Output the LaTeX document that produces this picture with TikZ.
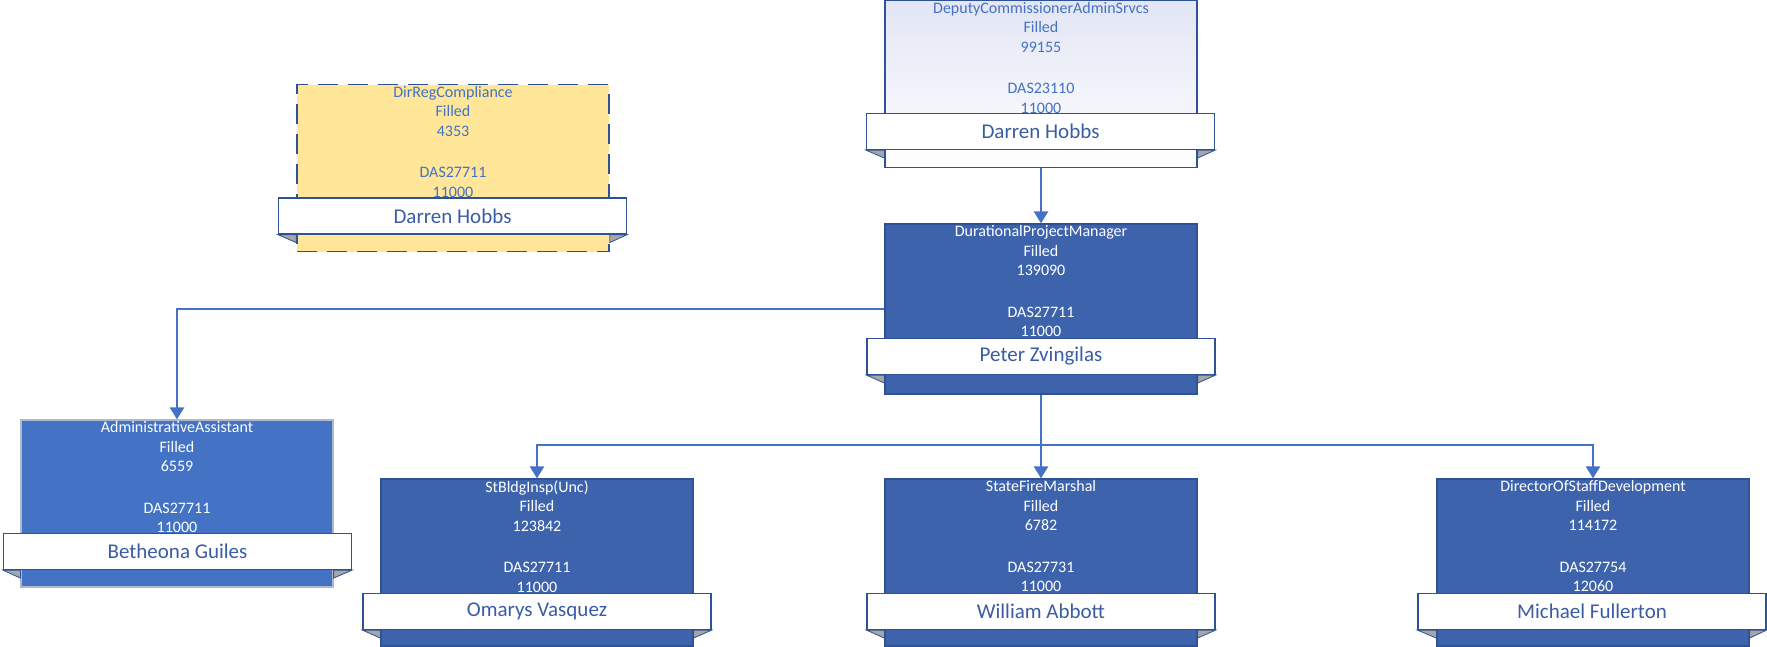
\documentclass[tikz,border=0pt]{standalone}
\usepackage{fontspec}
\setmainfont{Carlito}
\usepackage{tikz}
\usetikzlibrary{positioning,arrows.meta,calc}

\definecolor{orgdark}{RGB}{62,99,173}
\definecolor{orgmid}{RGB}{68,114,196}
\definecolor{orgedge}{RGB}{47,82,150}
\definecolor{orgtext}{RGB}{68,114,196}
\definecolor{orgname}{RGB}{58,92,165}
\definecolor{orgyellow}{RGB}{255,230,153}
\definecolor{orglav}{RGB}{226,229,244}
\definecolor{orgfold}{RGB}{166,166,166}
\definecolor{orggray}{RGB}{175,185,205}

% little grey flaps under a name banner
\newcommand{\flaps}[2]{%
  \draw[fold] (#2.south west) -- (#2.south west -| #1.west) -- ($(#2.south west -| #1.west)+(0,8)$) -- cycle;
  \draw[fold] (#2.south east) -- (#2.south east -| #1.east) -- ($(#2.south east -| #1.east)+(0,8)$) -- cycle;}

\begin{document}
\begin{tikzpicture}[x=1pt,y=-1pt,
    posbox/.style={draw=orgedge, line width=1.2pt, minimum width=312pt, minimum height=167pt, inner sep=0pt},
    banner/.style={draw=orgedge, line width=1.2pt, fill=white, minimum width=348pt, minimum height=36pt,
      inner sep=0pt, text=orgname, font=\fontsize{21}{25}\selectfont},
    info/.style={align=center, font=\fontsize{16}{19.5}\selectfont, inner sep=0pt, anchor=north},
    link/.style={draw=orgmid, line width=2.5pt, -{Triangle[width=14pt,length=12pt]}},
    fold/.style={draw=orgedge, line width=0.8pt, fill=orgfold}]
		\useasboundingbox (0,0) rectangle (1767,646);

		% boxes
		\node[posbox, top color=orglav, bottom color=white] (dep) at (1041,84) {};
		\node[posbox, fill=orgyellow, dash pattern=on 20pt off 10pt, line width=1.6pt] (dirreg) at (453,168) {};
		\node[posbox, fill=orgdark, minimum height=170pt] (dpm) at (1041,309) {};
		\node[posbox, fill=orgmid, draw=orggray] (admin) at (177,503.5) {};
		\node[posbox, fill=orgdark] (stb) at (537,562.5) {};
		\node[posbox, fill=orgdark] (sfm) at (1041,562.5) {};
		\node[posbox, fill=orgdark] (dsd) at (1593,562.5) {};

		% texts
		\node[info, text=orgtext] (depinfo) at ([yshift=-2pt]dep.north) {DeputyCommissionerAdminSrvcs\\Filled\\99155\\[22pt]DAS23110\\11000};
		\node[info, text=orgtext] (dirreginfo) at ([yshift=-2pt]dirreg.north) {DirRegCompliance\\Filled\\4353\\[22pt]DAS27711\\11000};
		\node[info, text=white] (dpminfo) at ([yshift=-2pt]dpm.north) {DurationalProjectManager\\Filled\\139090\\[22pt]DAS27711\\11000};
		\node[info, text=white] (admininfo) at ([yshift=-2pt]admin.north) {AdministrativeAssistant\\Filled\\6559\\[22pt]DAS27711\\11000};
		\node[info, text=white] (stbinfo) at ([yshift=-2pt]stb.north) {StBldgInsp(Unc)\\Filled\\123842\\[22pt]DAS27711\\11000};
		\node[info, text=white] (sfminfo) at ([yshift=-2pt]sfm.north) {StateFireMarshal\\Filled\\6782\\[22pt]DAS27731\\11000};
		\node[info, text=white] (dsdinfo) at ([yshift=-2pt]dsd.north) {DirectorOfStaffDevelopment\\Filled\\114172\\[22pt]DAS27754\\12060};

		% name banners
		\node[banner] (depname) at (1040.5,131.5) {Darren Hobbs};
		\node[banner] (dirregname) at (452.5,216) {Darren Hobbs};
		\node[banner] (dpmname) at (1041,356.5) {Peter Zvingilas};
		\node[banner] (adminname) at (177.5,551.5) {Betheona Guiles};
		\node[banner] (stbname) at (537,611.5) {Omarys Vasquez};
		\node[banner] (sfmname) at (1041,611.5) {William Abbott};
		\node[banner] (dsdname) at (1592,611.5) {Michael Fullerton};

		\flaps{dep}{depname}
		\flaps{dirreg}{dirregname}
		\flaps{dpm}{dpmname}
		\flaps{admin}{adminname}
		\flaps{stb}{stbname}
		\flaps{sfm}{sfmname}
		\flaps{dsd}{dsdname}

		% connectors
		\coordinate (bus) at (1041,445);
		\draw[link] (dep.south) -- (dpm.north);
		\draw[link] (dpm.west) -| (admin.north);
		\draw[draw=orgmid, line width=2.5pt] (dpm.south) -- (bus);
		\draw[link] (bus) -| (stb.north);
		\draw[link] (bus) -- (sfm.north);
		\draw[link] (bus) -| (dsd.north);
	\end{tikzpicture}
\end{document}
